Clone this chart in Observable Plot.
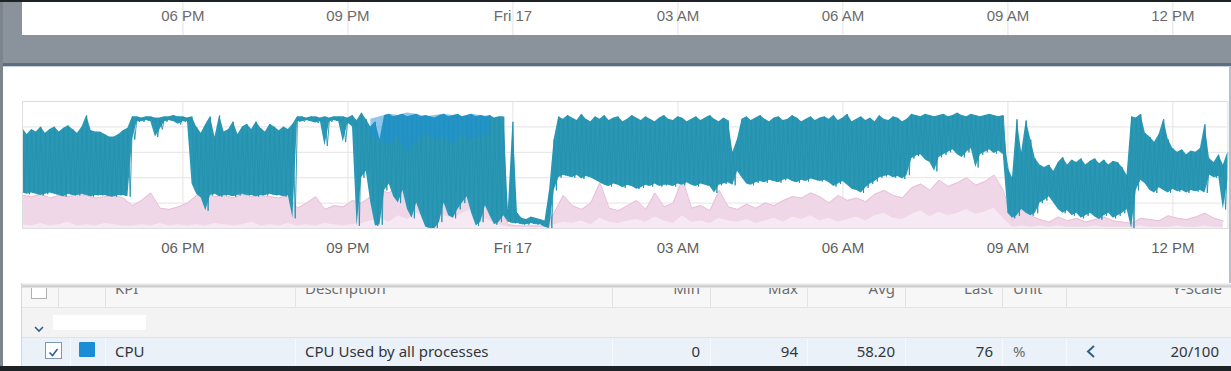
<!DOCTYPE html>
<html><head><meta charset="utf-8">
<script src="https://cdn.jsdelivr.net/npm/d3@7"></script>
<script src="https://cdn.jsdelivr.net/npm/@observablehq/plot@0.6"></script>
<style>
html,body{margin:0;padding:0;background:#fff;}
body{width:1231px;height:371px;position:relative;overflow:hidden;font-family:"Noto Sans",sans-serif;}
.a{position:absolute;}
.t{position:absolute;font-size:15px;line-height:15px;white-space:nowrap;}
.h{color:#6a6d70;}
.d{color:#32363a;}
</style></head><body>
<script>
// ---------- data ----------
const startTime = "2023-03-16T15:05:00Z";
const endTime = "2023-03-17T13:00:00Z";
const stepMinutes = 5;
const cpuHigh = [79,74,78,76,80,75,78,80,76,79,81,78,75,80,89,77,76,76,74,72,72,74,77,79,
 88,88,87,88,88,87,87,88,88,89,88,88,87,88,
 80,75,82,88,72,89,76,78,84,74,80,82,78,84,79,76,82,80,77,80,78,82,
 88,88,87,88,88,87,88,87,88,88,88,87,89,
 85,91,86,80,84,70,89,90,88,89,90,88,89,90,88,89,88,87,89,90,88,89,90,88,89,90,88,89,88,89,87,88,
 88,15,84,12,8,7,9,8,7,6,30,
 70,88,86,89,87,85,90,86,84,88,86,89,85,87,88,84,86,89,87,85,88,86,84,87,89,86,85,88,87,84,86,88,85,87,89,86,84,87,85,60,70,86,88,85,87,89,86,84,87,88,85,86,89,87,84,86,88,85,87,
 88,86,89,85,87,90,84,86,88,85,87,84,89,86,85,88,87,84,86,
 90,89,88,90,89,88,89,90,88,89,91,89,88,90,89,88,89,90,89,88,89,
 48,40,86,60,85,70,55,50,48,50,45,52,56,50,54,52,55,50,53,55,51,54,50,53,52,48,42,88,
 87,90,75,72,68,74,86,70,63,60,62,58,61,60,63,82,
 55,52,58,50,60];
const cpuLow = [28,27,28,27,26,27,28,27,26,25,27,26,26,27,26,25,26,26,26,25,25,26,26,25,
 70,84,84,85,84,72,78,84,85,84,82,84,84,35,
 27,24,14,26,27,25,26,26,25,26,27,26,26,25,26,26,27,26,26,25,26,8,
 84,84,85,84,83,84,65,84,85,84,68,83,80,
 2,40,45,20,2,3,30,35,25,20,30,15,8,20,10,1,0,0,5,20,10,8,15,20,25,12,2,5,18,10,3,5,
 10,5,4,4,3,3,4,3,3,1,0,
 30,40,42,41,40,42,39,41,40,38,36,34,33,35,34,32,34,33,31,32,34,33,35,33,34,34,33,35,34,36,34,33,35,34,33,28,34,35,36,34,45,40,35,34,36,37,36,38,37,36,38,39,37,36,38,37,39,38,37,
 38,36,33,35,37,34,31,30,28,32,35,37,40,41,42,40,41,39,42,
 55,57,58,54,52,45,56,58,60,62,58,56,60,63,48,58,60,62,59,61,58,
 12,8,10,15,12,10,12,20,22,25,20,15,12,14,10,12,8,10,12,9,7,10,12,8,10,12,15,0,
 30,38,35,30,28,32,30,28,31,29,30,28,30,29,30,28,
 42,40,41,15,38];
const memStepMinutes = 10;
const memHigh = [26,25,27,24,26,25,27,26,24,25,26,24,
 18,22,28,16,15,17,20,
 26,27,25,26,24,27,25,26,25,24,26,
 16,20,25,15,18,17,22,
 20,25,30,28,35,30,40,45,38,42,50,45,55,40,30,20,
 3,2,2,2,2,
 12,26,18,15,20,36,16,14,18,22,15,28,17,20,39,16,18,14,30,17,15,19,16,20,18,22,25,24,28,
 25,20,26,22,24,21,27,30,26,24,32,35,30,38,33,36,40,34,37,42,30,
 6,30,10,7,5,9,6,8,5,7,9,6,5,4,8,7,6,10,8,7,9,12,8,6];
const memLow = [3,2,4,2,3,5,2,3,2,4,3,2,
 2,3,2,4,2,3,2,
 3,2,4,3,2,3,5,2,3,2,4,
 2,3,2,4,3,2,3,
 4,6,8,5,10,7,12,9,14,10,8,12,15,9,6,3,
 1,1,1,1,1,
 3,5,4,6,3,8,5,4,6,7,5,9,6,4,10,5,6,4,8,6,5,7,4,6,8,5,9,7,10,
 6,8,5,7,9,6,10,12,8,7,11,14,9,13,10,12,15,11,13,16,8,
 1,2,1,2,1,2,1,1,1,2,1,1,1,1,2,1,1,1,2,1,1,2,1,1];
const blueStart = "2023-03-16T21:25:00Z";
const blueHigh = [86,88,90,89,91,90,88,89,90,89,88,90,89,88];
const blueLow = [72,70,65,72,60,68,75,70,72,66,74,70,72,75];
const tickTimes = ["2023-03-16T18:00:00Z","2023-03-16T21:00:00Z","2023-03-17T00:00:00Z","2023-03-17T03:00:00Z","2023-03-17T06:00:00Z","2023-03-17T09:00:00Z","2023-03-17T12:00:00Z"];
const tickLabels = ["06 PM","09 PM","Fri 17","03 AM","06 AM","09 AM","12 PM"];
const yTicks = [0,20,40,60,80,100];
const headerLabels = ["KPI","Description","Min","Max","Avg","Last","Unit","Y-Scale"];
const rowCells = ["CPU","CPU Used by all processes","0","94","58.20","76","%","20/100"];

// ---------- build ----------
const MIN = 60000;
const t0 = +new Date(startTime), tEnd = +new Date(endTime);
const xDomain = [new Date(t0), new Date(tEnd)];
const ticks = tickTimes.map(d => new Date(d));
const cpu = cpuHigh.map((h,i) => ({t:new Date(t0 + i*stepMinutes*MIN), hi:h, lo:cpuLow[i]}));
const zig = cpu.flatMap(d => [{t:d.t, v:d.hi},{t:new Date(+d.t + stepMinutes*MIN/2), v:d.lo}]).filter(d => +d.t <= tEnd);
const mem = memHigh.map((v,i) => ({t:new Date(t0 + i*memStepMinutes*MIN), hi:v, lo:memLow[i]}));
const b0 = +new Date(blueStart);
const blue = blueHigh.map((h,i) => ({t:new Date(b0 + i*memStepMinutes*MIN), hi:h, lo:blueLow[i]}));

function el(tag, cls, style, text){const e=document.createElement(tag); if(cls) e.className=cls; if(style) e.style.cssText=style; if(text!=null) e.textContent=text; document.body.appendChild(e); return e;}

// frame pieces
el("div","a","left:0;top:0;width:3px;height:371px;background:#7d858c");
el("div","a","left:3px;top:2px;width:1228px;height:61px;background:#8a939b");
el("div","a","left:0;top:0;width:1231px;height:2px;background:#1d2226");
el("div","a","left:3px;top:63px;width:1228px;height:3px;background:#5b6d7e");
el("div","a","left:3px;top:66px;width:1228px;height:1px;background:#c6ced6");
const topBox = el("div","a","left:22px;top:2px;width:1209px;height:33px;background:#fff");
const mainBox = el("div","a","left:22px;top:68px;width:1209px;height:215px;");
el("div","a","left:1229px;top:67px;width:2px;height:216px;background:#b9bfc4");

const W = 1209, mR = W - 1205.4;
const topAxis = Plot.plot({
  width: W, height: 33, marginLeft: 0, marginRight: mR, marginTop: 0, marginBottom: 0,
  style: {fontFamily: "'Liberation Sans', Arial, sans-serif", fontSize: "15px", background: "transparent"},
  x: {type: "utc", domain: xDomain, axis: null},
  y: {domain: [0,1], axis: null},
  marks: [
    Plot.ruleX(ticks, {stroke: "#e2e2e2"}),
    Plot.text(ticks, {x: d => d, text: (d,i) => tickLabels[i], frameAnchor: "middle", dy: -3, fill: "#6b6b6b", fontSize: 15})
  ]
});
topBox.appendChild(topAxis);

const chart = Plot.plot({
  width: W, height: 200, marginLeft: 0, marginRight: mR, marginTop: 33, marginBottom: 40,
  style: {fontFamily: "'Liberation Sans', Arial, sans-serif", fontSize: "15px", background: "transparent", overflow: "visible"},
  x: {type: "utc", domain: xDomain, axis: null},
  y: {domain: [0,100], axis: null},
  marks: [
    Plot.ruleY(yTicks, {stroke: "#e4e4e4"}),
    Plot.ruleX(ticks, {stroke: "#e4e4e4"}),
    Plot.areaY(mem, {x: "t", y1: 0, y2: "hi", fill: "#f6e8f2", fillOpacity: 0.95}),
    Plot.areaY(mem, {x: "t", y1: "lo", y2: "hi", fill: "#efd2e5", fillOpacity: 0.8}),
    Plot.line(mem, {x: "t", y: "hi", stroke: "#e9c0d8", strokeWidth: 1}),
    Plot.areaY(cpu, {x: "t", y1: "lo", y2: "hi", fill: "#2a98b5", fillOpacity: 1}),
    Plot.line(zig, {x: "t", y: "v", stroke: "#2591ae", strokeWidth: 0.9}),
    Plot.areaY(blue, {x: "t", y1: "lo", y2: "hi", fill: "#1e8fd8", fillOpacity: 0.5}),
    Plot.frame({stroke: "#dedede"}),
    Plot.text(ticks, {x: d => d, text: (d,i) => tickLabels[i], frameAnchor: "bottom", dy: 24, fill: "#5f5f5f", fontSize: 15})
  ]
});
mainBox.appendChild(chart);

// ---------- table ----------
el("div","a","left:22px;top:286px;width:1209px;height:21px;background:#f7f7f7;border-bottom:1px solid #e3e3e3");
el("div","a","left:22px;top:308px;width:1209px;height:29px;background:#f3f3f3;border-bottom:1px solid #e2e2e2");
el("div","a","left:22px;top:338px;width:1209px;height:28px;background:#eaf1f9");
el("div","a","left:21px;top:283px;width:1px;height:83px;background:#d6d6d6");
[58,105,295,612,710,807,905,1002,1066].forEach(x => el("div","a",`left:${x}px;top:286px;width:1px;height:21px;background:#e2e2e2`));
[70,105,295,612,710,807,905,1002,1066].forEach(x => el("div","a",`left:${x}px;top:338px;width:1px;height:28px;background:#f6f9fc`));
// header checkbox (cut)
el("div","a","left:31px;top:284px;width:14px;height:13px;background:#fff;border:1px solid #b0b0b0");
el("div","a","left:22px;top:283px;width:1209px;height:5px;background:linear-gradient(#ffffff 0%,#e2e2e2 30%,#cdcdcd 70%,#ededed 100%)");
// header labels (top clipped, as in the reference)
const hdr = el("div","a","left:0;top:288px;width:1231px;height:19px;overflow:hidden");
const hpos = [[115,null],[305,null],[null,700],[null,798],[null,895],[null,993],[1013,null],[null,1222]];
headerLabels.forEach((s,i) => {
  const [l,r] = hpos[i];
  const sp = document.createElement("span"); sp.className = "t h"; sp.textContent = s;
  sp.style.top = (294.5 - 13.3 - 288) + "px";
  if (l != null) sp.style.left = l + "px"; else sp.style.right = (1231 - r) + "px";
  hdr.appendChild(sp);
});
// group row
el("div","a","left:53px;top:315px;width:93px;height:15px;background:#fff");
const ns = "http://www.w3.org/2000/svg";
function svgEl(style, inner){const d=el("div","a",style); d.innerHTML=inner; return d;}
svgEl("left:33px;top:317px;width:12px;height:10px", `<svg xmlns="${ns}" width="12" height="10"><polyline points="2,3 6,7 10,3" fill="none" stroke="#2f5f8a" stroke-width="1.6"/></svg>`);
// data row
el("div","a","left:45px;top:342px;width:15px;height:15px;background:#fff;border:1px solid #7f98b2;box-sizing:content-box");
svgEl("left:46px;top:343px;width:15px;height:15px", `<svg xmlns="${ns}" width="15" height="15"><polyline points="3.5,7.5 6.5,10.5 11.5,4" fill="none" stroke="#2b6095" stroke-width="1.5"/></svg>`);
el("div","a","left:79px;top:342px;width:16px;height:15px;background:#1b8dd7;border-radius:1px");
svgEl("left:1084px;top:343px;width:14px;height:16px", `<svg xmlns="${ns}" width="14" height="16"><polyline points="10,2 4,7.5 10,13" fill="none" stroke="#2f5f8a" stroke-width="2"/></svg>`);
const dpos = [[115,null],[305,null],[null,700],[null,798],[null,895],[null,993],[1013,null],[null,1219]];
rowCells.forEach((s,i) => {
  const [l,r] = dpos[i];
  const sp = el("span", "t " + (i===6 ? "h" : "d"), "", s);
  sp.style.top = (357 - 13.3) + "px";
  if (l != null) sp.style.left = l + "px"; else sp.style.right = (1231 - r) + "px";
});
el("div","a","left:0;top:366px;width:1231px;height:5px;background:#1d2226");
</script>
</body></html>
